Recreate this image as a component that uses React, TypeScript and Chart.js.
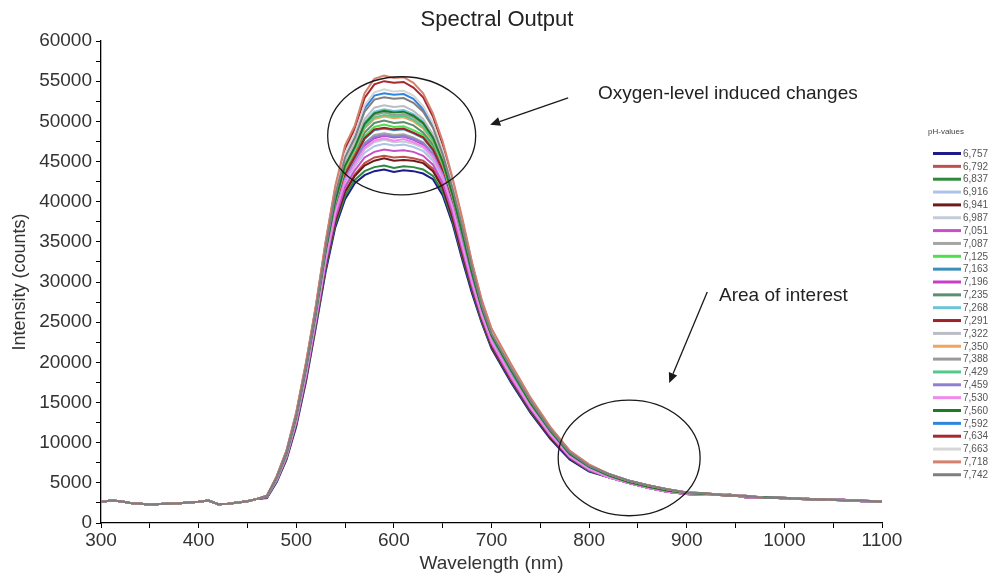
import React, { useEffect, useRef } from 'react';
import { Chart, registerables } from 'chart.js';

Chart.register(...registerables);

// ---- wavelengths (nm) ----
const wavelengthsBase = [300, 310, 320, 330, 340, 350, 360, 370, 380, 390, 400, 410, 420, 430, 440, 450, 460];
const wavelengthsPeak = [470, 480, 490, 500, 510, 520, 530, 540, 550, 560, 570, 580, 590, 600, 610, 620, 630, 640, 650, 660, 670, 680, 690, 700, 720, 740, 760, 780, 800];
const wavelengthsTail = [820, 840, 860, 880, 900, 920, 940, 960, 980, 1000, 1020, 1040, 1060, 1080, 1100];

// ---- shared baseline (all curves overlap here) ----
const baseline = [2600, 2800, 2700, 2500, 2400, 2300, 2350, 2400, 2450, 2550, 2650, 2800, 2350, 2400, 2550, 2700, 3000];

// ---- tail band variants ----
const tailHigh = [6100, 5300, 4700, 4200, 3800, 3700, 3400, 3400, 3100, 3150, 2950, 2950, 2800, 2800, 2650];
const tailMid = [5900, 5100, 4500, 4000, 3700, 3600, 3500, 3300, 3200, 3100, 3000, 2900, 2850, 2750, 2700];
const tailLow = [5700, 5000, 4400, 3900, 3600, 3500, 3600, 3200, 3250, 3050, 3050, 2850, 2900, 2700, 2750];

// ---- legend labels / colours ----
const phLabels = ['6,757', '6,792', '6,837', '6,916', '6,941', '6,987', '7,051', '7,087', '7,125', '7,163', '7,196', '7,235', '7,268', '7,291', '7,322', '7,350', '7,388', '7,429', '7,459', '7,530', '7,560', '7,592', '7,634', '7,663', '7,718', '7,742'];
const phColors = ['#1c1c8c', '#c0504d', '#2d8a3c', '#aec3e6', '#6e1b1b', '#c5ccd8', '#c94fc9', '#a5a5a5', '#4fe04f', '#3b8fb8', '#c63fc6', '#5d8f70', '#6cc4d6', '#9e2226', '#bcbcc4', '#f2a35c', '#9a9a9a', '#55c98a', '#8f7fd3', '#ef8bef', '#1f7a25', '#2e86e0', '#a8282f', '#d6d6d6', '#d4826f', '#7f7f7f'];

// ---- peak-region intensities per pH (470–800 nm) ----
const s6757 = [3100, 5100, 7900, 12000, 17600, 24300, 31200, 36800, 40300, 42300, 43300, 43800, 44000, 43700, 43900, 43800, 43500, 42800, 40800, 37300, 32800, 28600, 24900, 21700, 17500, 13700, 10500, 7900, 6400];
const s6792 = [3300, 5300, 8100, 12400, 18100, 24800, 31900, 37600, 41300, 43400, 44800, 45500, 45700, 45500, 45600, 45400, 45100, 44100, 41900, 38200, 33700, 29300, 25400, 22100, 17900, 14000, 10800, 8100, 6600];
const s6837 = [3200, 5200, 8000, 12300, 17900, 24600, 31600, 37200, 40700, 42700, 43800, 44300, 44500, 44200, 44400, 44300, 44000, 43200, 41200, 37700, 33200, 29000, 25100, 21900, 17700, 13900, 10700, 8100, 6500];
const s6916 = [3300, 5400, 8300, 12600, 18400, 25100, 32400, 38300, 42200, 44400, 46100, 46900, 47200, 47000, 47100, 46800, 46300, 45100, 42700, 39000, 34300, 29800, 25800, 22500, 18200, 14300, 11000, 8200, 6700];
const s6941 = [3200, 5300, 8100, 12400, 18000, 24800, 31900, 37500, 41200, 43200, 44500, 45100, 45400, 45100, 45200, 45100, 44800, 43800, 41700, 38000, 33500, 29200, 25300, 22000, 17800, 14000, 10700, 8100, 6600];
const s6987 = [3300, 5400, 8300, 12700, 18500, 25300, 32600, 38500, 42500, 44600, 46500, 47400, 47700, 47400, 47500, 47200, 46700, 45400, 43000, 39200, 34500, 29900, 25800, 22500, 18300, 14300, 11000, 8300, 6700];
const s7051 = [3200, 5300, 8200, 12500, 18200, 25000, 32200, 38000, 41800, 43900, 45500, 46200, 46500, 46300, 46400, 46200, 45700, 44600, 42300, 38600, 34000, 29500, 25600, 22300, 18000, 14200, 10900, 8200, 6600];
const s7087 = [3300, 5400, 8400, 12800, 18600, 25500, 32800, 38900, 43000, 45200, 47300, 48300, 48500, 48300, 48400, 48000, 47400, 46000, 43500, 39600, 34900, 30200, 26100, 22700, 18400, 14500, 11100, 8400, 6800];
const s7125 = [3300, 5500, 8500, 13000, 18800, 25700, 33200, 39300, 43600, 45800, 48200, 49300, 49600, 49300, 49400, 48900, 48300, 46800, 44100, 40100, 35300, 30500, 26300, 22900, 18600, 14600, 11200, 8500, 6800];
const s7163 = [3300, 5500, 8400, 12900, 18700, 25600, 33000, 39100, 43300, 45500, 47800, 48900, 49100, 48900, 49000, 48500, 47900, 46400, 43800, 39900, 35100, 30400, 26200, 22800, 18500, 14600, 11200, 8400, 6800];
const s7196 = [3300, 5400, 8400, 12700, 18500, 25400, 32700, 38700, 42700, 44900, 47000, 47900, 48200, 48000, 48100, 47700, 47100, 45700, 43200, 39400, 34700, 30100, 26000, 22600, 18400, 14400, 11100, 8300, 6700];
const s7235 = [3300, 5500, 8500, 13000, 18900, 25800, 33300, 39500, 43800, 46100, 48600, 49800, 50100, 49800, 49900, 49500, 48600, 47100, 44300, 40300, 35600, 30700, 26400, 23000, 18700, 14700, 11300, 8500, 6900];
const s7268 = [3300, 5600, 8700, 13200, 19200, 26100, 33700, 40200, 44600, 46900, 49900, 51200, 51500, 51300, 51400, 50900, 50000, 48100, 45100, 41000, 36200, 31200, 26800, 23300, 19000, 14900, 11500, 8700, 7000];
const s7291 = [3300, 5500, 8400, 12900, 18700, 25600, 33000, 39200, 43400, 45600, 47900, 49000, 49200, 49000, 49100, 48600, 48000, 46500, 43900, 39900, 35200, 30400, 26200, 22800, 18600, 14600, 11200, 8400, 6800];
const s7322 = [3400, 5600, 8700, 13300, 19300, 26200, 33900, 40400, 44900, 47300, 50300, 51700, 52000, 51800, 51900, 51300, 50300, 48400, 45400, 41200, 36400, 31300, 26900, 23400, 19100, 15000, 11500, 8700, 7000];
const s7350 = [3300, 5500, 8600, 13100, 19000, 25900, 33500, 39800, 44100, 46400, 49100, 50300, 50600, 50400, 50500, 50000, 49100, 47500, 44600, 40600, 35800, 30900, 26600, 23100, 18800, 14800, 11400, 8600, 6900];
const s7388 = [3300, 5600, 8600, 13200, 19100, 26000, 33600, 40000, 44400, 46700, 49500, 50800, 51100, 50800, 50900, 50500, 49600, 47800, 44900, 40800, 36000, 31000, 26700, 23200, 18900, 14900, 11400, 8600, 6900];
const s7429 = [3300, 5500, 8600, 13100, 19100, 25900, 33500, 39900, 44300, 46600, 49300, 50500, 50800, 50600, 50700, 50200, 49300, 47600, 44800, 40700, 35900, 31000, 26600, 23200, 18900, 14800, 11400, 8600, 6900];
const s7459 = [3300, 5400, 8400, 12800, 18600, 25400, 32800, 38800, 42900, 45000, 47200, 48100, 48300, 48100, 48200, 47800, 47300, 45900, 43400, 39500, 34800, 30200, 26000, 22700, 18400, 14400, 11100, 8300, 6700];
const s7530 = [3300, 5400, 8300, 12700, 18500, 25300, 32600, 38600, 42600, 44700, 46700, 47600, 47900, 47600, 47800, 47400, 46900, 45600, 43100, 39300, 34600, 30000, 25900, 22600, 18300, 14400, 11100, 8300, 6700];
const s7560 = [3300, 5600, 8600, 13200, 19200, 26000, 33700, 40100, 44500, 46800, 49700, 51000, 51300, 51100, 51200, 50700, 49800, 48000, 45000, 40900, 36100, 31100, 26700, 23300, 19000, 14900, 11500, 8600, 7000];
const s7592 = [3400, 5700, 8800, 13500, 19600, 26500, 34300, 41000, 45800, 48200, 51600, 53200, 53500, 53300, 53400, 52800, 51500, 49500, 46200, 42000, 37100, 31900, 27200, 23700, 19400, 15300, 11700, 8800, 7100];
const s7634 = [3400, 5800, 9000, 13700, 19900, 26900, 34800, 41700, 46600, 49100, 52900, 54600, 55000, 54800, 54900, 54200, 53000, 50600, 47100, 42700, 37700, 32300, 27600, 24100, 19700, 15500, 11900, 9000, 7200];
const s7663 = [3400, 5700, 8900, 13600, 19700, 26600, 34500, 41300, 46000, 48500, 52000, 53600, 54000, 53700, 53800, 53200, 51900, 49800, 46400, 42200, 37300, 32000, 27400, 23800, 19500, 15300, 11800, 8900, 7200];
const s7718 = [3400, 5800, 9000, 13800, 20000, 27000, 35000, 42000, 47000, 49500, 53500, 55300, 55700, 55400, 55500, 54800, 53500, 51000, 47500, 43000, 38000, 32500, 27800, 24200, 19800, 15600, 12000, 9000, 7300];
const s7742 = [3400, 5700, 8800, 13400, 19500, 26400, 34200, 40900, 45500, 47900, 51200, 52700, 53000, 52800, 52900, 52300, 51200, 49200, 45900, 41700, 36900, 31800, 27100, 23600, 19300, 15200, 11700, 8800, 7100];

const peakSeries = [s6757, s6792, s6837, s6916, s6941, s6987, s7051, s7087, s7125, s7163, s7196, s7235, s7268, s7291, s7322, s7350, s7388, s7429, s7459, s7530, s7560, s7592, s7634, s7663, s7718, s7742];
const tailSeries = [tailLow, tailLow, tailLow, tailLow, tailLow, tailLow, tailLow, tailMid, tailMid, tailMid, tailLow, tailMid, tailMid, tailMid, tailHigh, tailMid, tailMid, tailMid, tailMid, tailLow, tailMid, tailHigh, tailHigh, tailHigh, tailHigh, tailHigh];

const FONT = '"Liberation Sans", Arial, Helvetica, sans-serif';

const allWavelengths = [...wavelengthsBase, ...wavelengthsPeak, ...wavelengthsTail];

function buildPoints(peak: number[], tail: number[]) {
  const ys = [...baseline, ...peak, ...tail];
  const n = Math.min(ys.length, allWavelengths.length);
  const pts: { x: number; y: number }[] = [];
  for (let i = 0; i < n; i++) pts.push({ x: allWavelengths[i], y: ys[i] });
  return pts;
}

const annotationPlugin = {
  id: 'annotations',
  afterDraw(chart: any) {
    const { ctx, scales } = chart;
    const xs = scales.x;
    const ys = scales.y;
    const px = (v: number) => xs.getPixelForValue(v);
    const py = (v: number) => ys.getPixelForValue(v);
    ctx.save();
    // title
    ctx.font = `22px ${FONT}`;
    ctx.fillStyle = '#222';
    ctx.textAlign = 'center';
    ctx.textBaseline = 'middle';
    ctx.fillText('Spectral Output', 497, 20);

    ctx.strokeStyle = '#1a1a1a';
    ctx.fillStyle = '#1a1a1a';
    ctx.lineWidth = 1.3;
    const ellipse = (cx: number, cy: number, ex: number, ey: number) => {
      const x0 = px(cx), y0 = py(cy);
      const rx = Math.abs(px(cx + ex) - x0);
      const ry = Math.abs(py(cy + ey) - y0);
      ctx.beginPath();
      ctx.ellipse(x0, y0, rx, ry, 0, 0, Math.PI * 2);
      ctx.stroke();
    };
    ellipse(608, 48200, 75.8, 7350);
    ellipse(841, 8100, 72.7, 7200);
    const arrow = (ax: number, ay: number, bx: number, by: number) => {
      const x1 = px(ax), y1 = py(ay), x2 = px(bx), y2 = py(by);
      const ang = Math.atan2(y2 - y1, x2 - x1);
      const hl = 10, hw = 4.5;
      const bxp = x2 - hl * Math.cos(ang), byp = y2 - hl * Math.sin(ang);
      ctx.beginPath();
      ctx.moveTo(x1, y1);
      ctx.lineTo(bxp, byp);
      ctx.stroke();
      ctx.beginPath();
      ctx.moveTo(x2, y2);
      ctx.lineTo(bxp + hw * Math.sin(ang), byp - hw * Math.cos(ang));
      ctx.lineTo(bxp - hw * Math.sin(ang), byp + hw * Math.cos(ang));
      ctx.closePath();
      ctx.fill();
    };
    arrow(778.5, 52930, 698.6, 49560);
    arrow(921, 28770, 882, 17430);
    ctx.font = `19px ${FONT}`;
    ctx.fillStyle = '#222';
    ctx.textBaseline = 'middle';
    ctx.textAlign = 'left';
    ctx.fillText('Oxygen-level induced changes', px(809), py(53420));
    ctx.fillText('Area of interest', px(933), py(28270));
    ctx.restore();
  },
};

const legendPlugin = {
  id: 'customLegend',
  afterDraw(chart: any) {
    const { ctx } = chart;
    const ds = chart.data.datasets;
    ctx.save();
    ctx.font = `8px ${FONT}`;
    ctx.fillStyle = '#444';
    ctx.textAlign = 'center';
    ctx.textBaseline = 'middle';
    ctx.fillText('pH-values', 946, 132);
    ctx.font = `10px ${FONT}`;
    ctx.textAlign = 'left';
    for (let i = 0; i < ds.length; i++) {
      const y = 153.5 + i * 12.85;
      ctx.strokeStyle = ds[i].borderColor;
      ctx.lineWidth = 3;
      ctx.beginPath();
      ctx.moveTo(933, y);
      ctx.lineTo(961, y);
      ctx.stroke();
      ctx.fillStyle = '#555';
      ctx.fillText(ds[i].label, 963, y + 0.5);
    }
    ctx.restore();
  },
};

export default function App() {
  const canvasRef = useRef<HTMLCanvasElement | null>(null);

  useEffect(() => {
    document.body.style.margin = '0';
    const canvas = canvasRef.current;
    if (!canvas) return;
    const n = phLabels.length;
    const datasets = phLabels.map((label, i) => ({
      label,
      data: buildPoints(peakSeries[i], tailSeries[i]),
      borderColor: phColors[i],
      backgroundColor: phColors[i],
      borderWidth: 2,
      pointRadius: 0,
      tension: 0,
      fill: false,
      order: n - i,
    }));
    const chart = new Chart(canvas, {
      type: 'line',
      data: { datasets },
      options: {
        animation: false,
        responsive: true,
        maintainAspectRatio: false,
        layout: { padding: { left: 0, right: 112, top: 41, bottom: 0 } },
        plugins: {
          legend: { display: false },
          tooltip: { enabled: false },
          title: { display: false },
        },
        scales: {
          x: {
            type: 'linear',
            min: 300,
            max: 1100,
            afterFit: (s: any) => { s.height = 54; },
            border: { color: '#000', width: 1.3 },
            grid: { drawOnChartArea: false, drawTicks: true, tickLength: 5, color: '#000', tickColor: '#000' },
            ticks: {
              stepSize: 50,
              autoSkip: false,
              maxRotation: 0,
              padding: 1,
              color: '#333',
              font: { family: FONT, size: 19 },
              callback: (v: any) => (Number(v) % 100 === 0 ? String(v) : ''),
            },
            title: {
              display: true,
              text: 'Wavelength (nm)',
              color: '#333',
              font: { family: FONT, size: 19 },
              padding: { top: 0, bottom: 2 },
            },
          },
          y: {
            type: 'linear',
            min: 0,
            max: 60000,
            afterFit: (s: any) => { s.width = 101; },
            border: { color: '#000', width: 1.3 },
            grid: { drawOnChartArea: false, drawTicks: true, tickLength: 5, color: '#000', tickColor: '#000' },
            ticks: {
              stepSize: 2500,
              autoSkip: false,
              padding: 4,
              color: '#333',
              font: { family: FONT, size: 19 },
              callback: (v: any) => (Number(v) % 5000 === 0 ? String(v) : ''),
            },
            title: {
              display: true,
              text: 'Intensity (counts)',
              color: '#333',
              font: { family: FONT, size: 18 },
              padding: { top: 9, bottom: 0 },
            },
          },
        },
      },
      plugins: [annotationPlugin, legendPlugin],
    });
    return () => chart.destroy();
  }, []);

  return (
    <div style={{ width: 994, height: 577, position: 'relative' }}>
      <canvas ref={canvasRef} />
    </div>
  );
}
